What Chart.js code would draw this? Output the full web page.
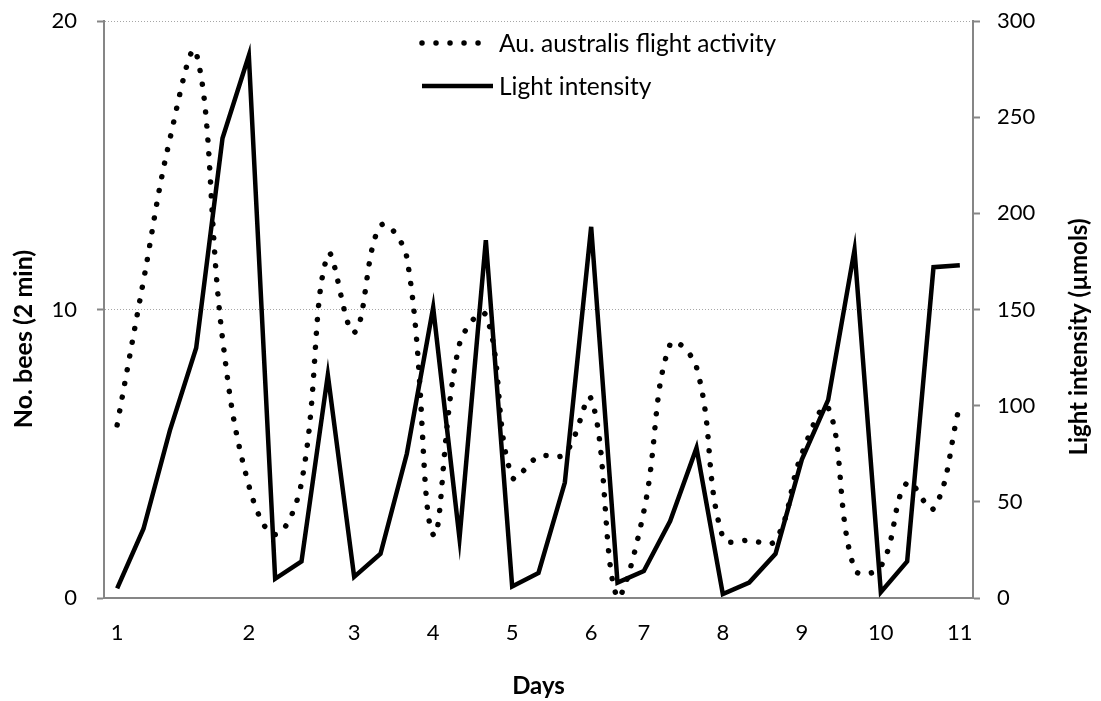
<!DOCTYPE html>
<html>
<head>
<meta charset="utf-8">
<script src="https://cdn.jsdelivr.net/npm/chart.js@4.4.1/dist/chart.umd.min.js"></script>
<style>
  html, body { margin: 0; padding: 0; background: #fff; }
  #wrap { width: 1101px; height: 701px; position: relative; }
</style>
</head>
<body>
<div id="wrap"><canvas id="c" width="1101" height="701"></canvas></div>
<script>
// Category labels (33 observation points; only day starts are labelled)
const dayLabels = ['1','','','','','2','','','','3','','','4','','','5','','','6','','7','','','8','','','9','','','10','','','11'];

// Au. australis flight activity (No. bees per 2 min)
const beeActivity = [6, 11, 15.9, 18.9, 9, 3.9, 2.2, 4, 11.9, 9.2, 12.9, 11.8, 2.2, 8.8, 9.8, 4.2, 4.9, 5, 6.9, 0, 3, 8.8, 8, 2.1, 2, 2, 5, 6.6, 1, 1.1, 4, 3.1, 6.7];

// Light intensity (µmols)
const lightIntensity = [5, 36, 87, 130, 239, 282, 10, 19, 116, 11, 23, 75, 151, 31, 186, 6, 13, 60, 193, 8, 14, 40, 78, 2, 8, 23, 72, 103, 181, 3, 19, 172, 173];

const leftTicks = [0, 10, 20];
const rightTicks = [0, 50, 100, 150, 200, 250, 300];

const seriesNames = ['Au. australis flight activity', 'Light intensity'];
const axisTitles = { x: 'Days', left: 'No. bees (2 min)', right: 'Light intensity (µmols)' };

const AXIS = '#868686';
const FONT = 'Lato, "Open Sans", sans-serif';

const decorPlugin = {
  id: 'decor',
  afterDraw(chart) {
    const ctx = chart.ctx;
    ctx.save();
    // legend inside the plot area
    const items = [
      {y: 43, x2: 480, ds: chart.data.datasets[0]},
      {y: 86, x2: 493, ds: chart.data.datasets[1]}
    ];
    items.forEach(it => {
      ctx.beginPath();
      ctx.lineWidth = it.ds.borderWidth;
      ctx.strokeStyle = it.ds.borderColor;
      ctx.lineCap = it.ds.borderCapStyle || 'butt';
      ctx.setLineDash(it.ds.borderDash || []);
      ctx.moveTo(422, it.y);
      ctx.lineTo(it.x2, it.y);
      ctx.stroke();
      ctx.setLineDash([]);
      ctx.fillStyle = '#000';
      ctx.font = '24.5px ' + FONT;
      ctx.textBaseline = 'middle';
      ctx.textAlign = 'left';
      ctx.fillText(it.ds.label, 499, it.y + 1);
    });
    // vertical axis titles (both read bottom-to-top)
    ctx.fillStyle = '#000';
    ctx.textAlign = 'center';
    ctx.textBaseline = 'middle';
    ctx.font = 'bold 25px ' + FONT;
    ctx.save();
    ctx.translate(24, 339);
    ctx.rotate(-Math.PI / 2);
    ctx.fillText(axisTitles.left, 0, 0);
    ctx.restore();
    ctx.font = 'bold 24px ' + FONT;
    ctx.save();
    ctx.translate(1079, 337);
    ctx.rotate(-Math.PI / 2);
    ctx.fillText(axisTitles.right, 0, 0);
    ctx.restore();
    ctx.restore();
  }
};

new Chart(document.getElementById('c'), {
  type: 'line',
  data: {
    labels: dayLabels,
    datasets: [
      {
        label: seriesNames[0],
        data: beeActivity,
        yAxisID: 'yBees',
        borderColor: '#000',
        borderWidth: 5.5,
        borderDash: [0.01, 14],
        borderCapStyle: 'round',
        tension: 0.4,
        pointRadius: 0,
        fill: false
      },
      {
        label: seriesNames[1],
        data: lightIntensity,
        yAxisID: 'yLight',
        borderColor: '#000',
        borderWidth: 4.5,
        borderJoinStyle: 'miter',
        tension: 0,
        pointRadius: 0,
        fill: false
      }
    ]
  },
  options: {
    responsive: false,
    animation: false,
    layout: { padding: { top: 21, left: 0, right: 0, bottom: 0 } },
    plugins: {
      legend: { display: false },
      tooltip: { enabled: false }
    },
    scales: {
      x: {
        type: 'category',
        offset: true,
        grid: { display: false, drawTicks: false },
        border: { display: true, color: AXIS, width: 2 },
        ticks: {
          autoSkip: false,
          maxRotation: 0,
          minRotation: 0,
          padding: 22,
          color: '#000',
          font: { family: FONT, size: 22 }
        },
        title: {
          display: true,
          text: axisTitles.x,
          color: '#000',
          font: { family: FONT, size: 24, weight: 'bold' },
          padding: { top: 20, bottom: 0 }
        },
        afterFit(s) { s.height = 103; s.paddingLeft = 0; s.paddingRight = 0; }
      },
      yBees: {
        position: 'left',
        min: 0, max: 20,
        afterBuildTicks(s) { s.ticks = leftTicks.map(v => ({value: v})); },
        grid: {
          color: ctx => ctx.tick && ctx.tick.value === 0 ? 'rgba(0,0,0,0)' : '#a6a6a6',
          lineWidth: 1,
          tickColor: AXIS,
          tickLength: 7,
          tickWidth: 2,
          drawTicks: true
        },
        border: { display: true, color: AXIS, width: 2, dash: [1, 2] },
        ticks: {
          padding: 20,
          color: '#000',
          font: { family: FONT, size: 22 }
        },
        afterFit(s) { s.width = 104; s.paddingTop = 0; s.paddingBottom = 0; }
      },
      yLight: {
        position: 'right',
        min: 0, max: 300,
        afterBuildTicks(s) { s.ticks = rightTicks.map(v => ({value: v})); },
        grid: {
          drawOnChartArea: false,
          tickColor: AXIS,
          tickLength: 7,
          tickWidth: 2,
          drawTicks: true
        },
        border: { display: true, color: AXIS, width: 2 },
        ticks: {
          padding: 17,
          color: '#000',
          font: { family: FONT, size: 22 }
        },
        afterFit(s) { s.width = 128; s.paddingTop = 0; s.paddingBottom = 0; }
      }
    }
  },
  plugins: [decorPlugin]
});
</script>
</body>
</html>
